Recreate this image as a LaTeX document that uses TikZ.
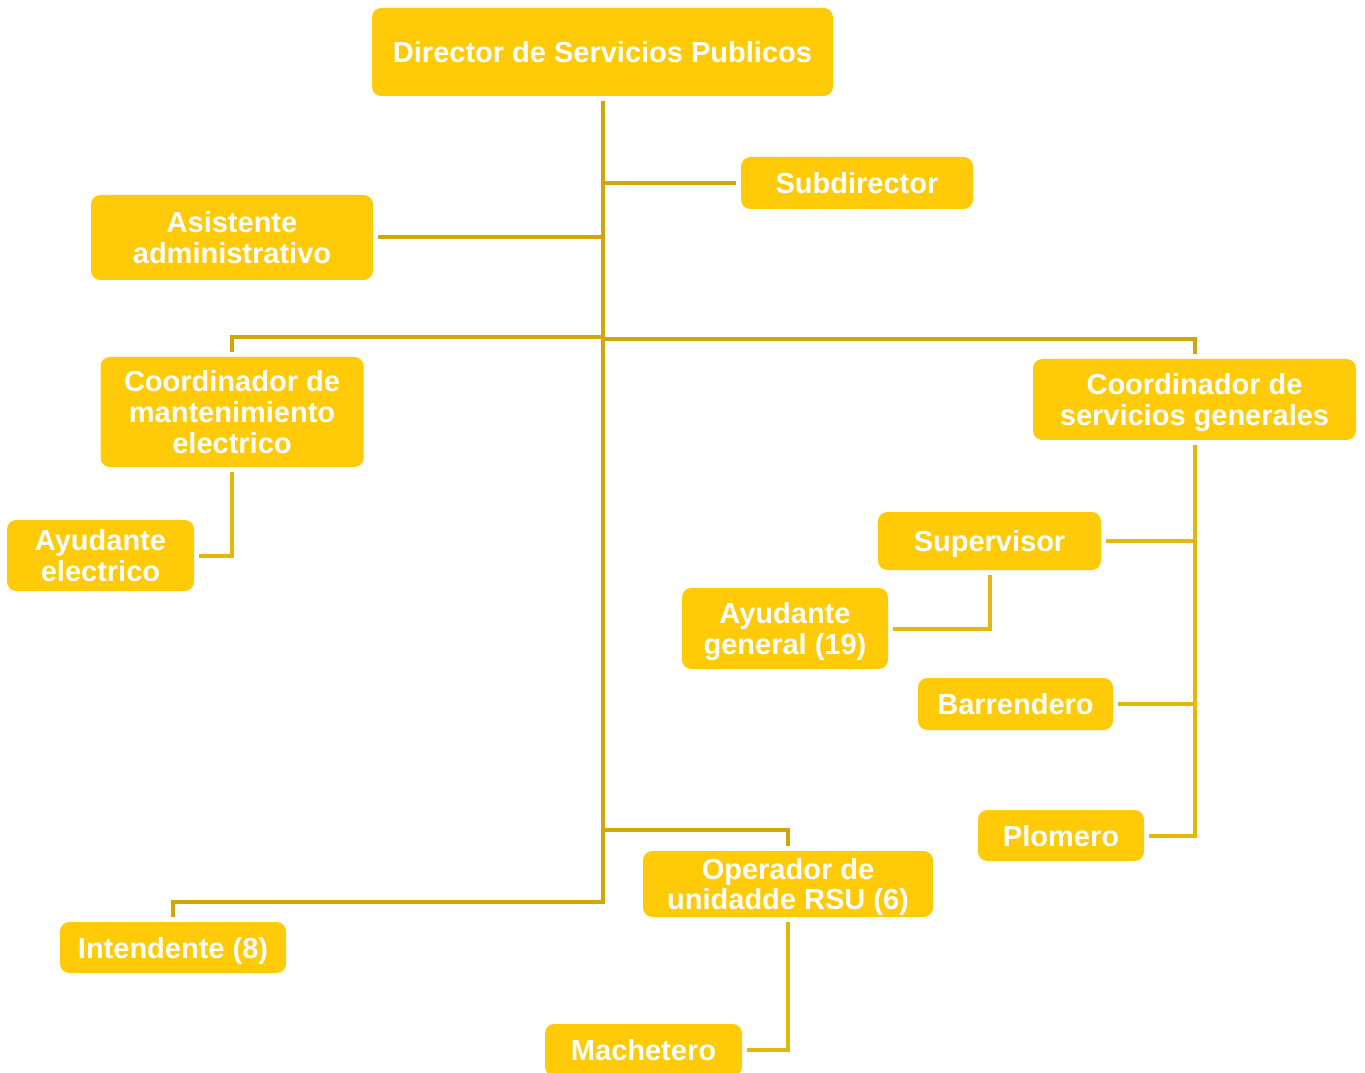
\documentclass[tikz,border=0pt]{standalone}
\usepackage{fontspec}
\setmainfont{Liberation Sans}
\definecolor{boxc}{RGB}{255,203,8}
\definecolor{lineA}{RGB}{210,165,10}
\definecolor{lineB}{RGB}{228,184,8}
\tikzset{
  orgbox/.style={rectangle, rounded corners=7pt, fill=boxc, text=white,
    font=\fontsize{21.75}{22.9}\selectfont\bfseries, align=center,
    inner sep=0pt, outer sep=3.75pt, text depth=0pt},
  linkA/.style={draw=lineA, line width=3pt},
  linkB/.style={draw=lineB, line width=3pt},
}
\begin{document}
\begin{tikzpicture}[x=0.75pt,y=-0.75pt]
\useasboundingbox (0,0) rectangle (1365,1073);
\node[orgbox, minimum width=345.75pt, minimum height=66pt] (dir) at (602.5,52) {Director de Servicios Publicos};
\node[orgbox, minimum width=174pt, minimum height=39pt] (sub) at (857,183) {Subdirector};
\node[orgbox, minimum width=211.5pt, minimum height=63.75pt] (asis) at (232,237.5) {Asistente\\administrativo};
\node[orgbox, minimum width=197.25pt, minimum height=82.5pt] (cme) at (232,412) {Coordinador de\\mantenimiento\\electrico};
\node[orgbox, minimum width=140.25pt, minimum height=53.25pt] (aye) at (100.5,555.5) {Ayudante\\electrico};
\node[orgbox, minimum width=242.25pt, minimum height=60.75pt] (csg) at (1194.5,399.5) {Coordinador de\\servicios generales};
\node[orgbox, minimum width=167.25pt, minimum height=43.5pt] (sup) at (989.5,541) {Supervisor};
\node[orgbox, minimum width=154.5pt, minimum height=60.75pt] (ayg) at (785,628.5) {Ayudante\\general (19)};
\node[orgbox, minimum width=146.25pt, minimum height=39pt] (bar) at (1015.5,704) {Barrendero};
\node[orgbox, minimum width=124.5pt, minimum height=38.25pt] (plo) at (1061,835.5) {Plomero};
\node[orgbox, minimum width=217.5pt, minimum height=49.5pt] (op) at (788,884) {Operador de\\unidadde RSU (6)};
\node[orgbox, minimum width=147.75pt, minimum height=39pt] (mach) at (643.5,1050) {Machetero};
\node[orgbox, minimum width=169.5pt, minimum height=38.25pt] (int) at (173,947.5) {Intendente (8)};

\coordinate (tb) at (602.5,902);
\coordinate (busL) at (602.5,337);
\coordinate (busR) at (602.5,339.5);
\coordinate (opb) at (602.5,830);

\draw[linkA] (dir.south) -- (tb) -| (int.north);
\draw[linkA] (sub.west) -- (sub.west -| dir.south);
\draw[linkA] (asis.east) -- (asis.east -| dir.south);
\draw[linkA] (busL) -| (cme.north);
\draw[linkA] (busR) -| (csg.north);
\draw[linkA] (opb) -| (op.north);
\draw[linkB] (cme.south) |- (aye.east);
\draw[linkB] (csg.south) |- (plo.east);
\draw[linkB] (sup.east) -- (sup.east -| csg.south);
\draw[linkB] (bar.east) -- (bar.east -| csg.south);
\draw[linkB] (sup.south) |- (ayg.east);
\draw[linkB] (op.south) |- (mach.east);
\end{tikzpicture}
\end{document}
